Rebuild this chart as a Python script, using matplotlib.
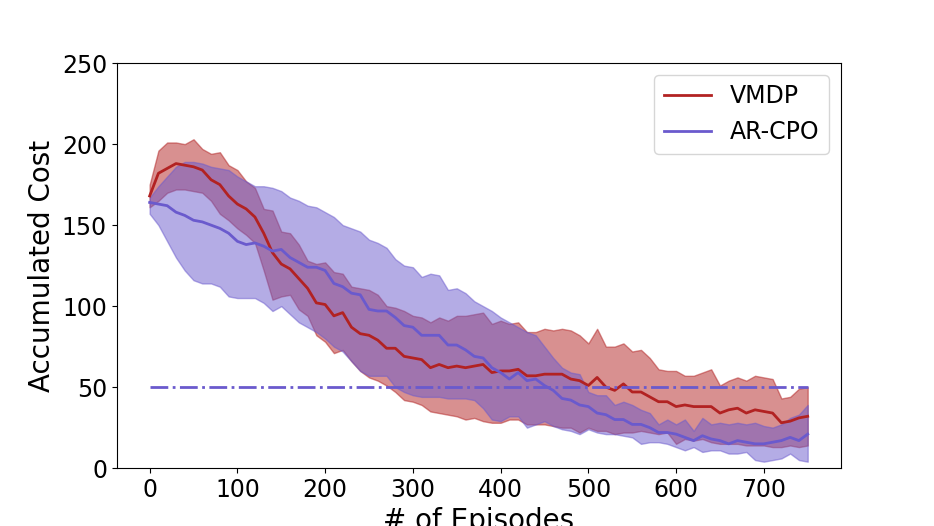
import matplotlib
matplotlib.use('Agg')
import matplotlib.pyplot as plt

# episodes sampled every 10
episodes = list(range(0, 760, 10))

# VMDP: mean and band
vmdp_mean = [168, 182, 185, 188, 187, 186, 184, 178, 175, 168,
             163, 160, 155, 145, 133, 126, 123, 117, 111, 102,
             101, 94, 96, 87, 83, 82, 79, 74, 74, 69,
             68, 67, 62, 64, 62, 63, 62, 63, 64, 59,
             60, 60, 61, 57, 57, 58, 58, 58, 55, 54,
             51, 56, 50, 48, 52, 47, 47, 44, 41, 41,
             38, 39, 38, 38, 38, 34, 36, 37, 34, 36,
             35, 34, 28, 29, 31, 32]
vmdp_upper = [175, 196, 201, 201, 200, 203, 197, 194, 195, 187,
              184, 177, 173, 160, 159, 146, 145, 138, 128, 126,
              127, 121, 120, 112, 111, 110, 107, 100, 99, 97,
              94, 93, 90, 93, 91, 94, 94, 95, 96, 89,
              91, 89, 90, 84, 84, 86, 85, 86, 85, 82,
              77, 86, 75, 75, 77, 72, 73, 68, 61, 60,
              60, 57, 57, 59, 61, 51, 54, 56, 54, 57,
              56, 55, 43, 44, 49, 50]
vmdp_lower = [161, 165, 170, 172, 172, 171, 170, 165, 157, 153,
              148, 144, 139, 122, 104, 106, 107, 98, 94, 82,
              78, 71, 73, 66, 60, 56, 54, 51, 47, 42,
              41, 39, 35, 34, 33, 32, 30, 31, 29, 28,
              28, 30, 30, 27, 27, 27, 26, 25, 25, 22,
              25, 23, 23, 21, 22, 22, 23, 22, 21, 22,
              15, 18, 17, 18, 16, 15, 15, 15, 14, 14,
              14, 13, 13, 14, 13, 14]

# AR-CPO: mean and band
arcpo_mean = [164, 163, 162, 158, 156, 153, 152, 150, 148, 145,
              140, 138, 139, 137, 134, 135, 130, 127, 124, 124,
              122, 114, 112, 108, 107, 98, 97, 97, 93, 88,
              87, 82, 82, 82, 76, 76, 73, 69, 68, 62,
              59, 55, 59, 54, 55, 51, 48, 43, 42, 39,
              38, 34, 33, 30, 30, 27, 27, 25, 22, 22,
              21, 19, 17, 20, 18, 17, 15, 17, 16, 15,
              15, 16, 17, 19, 17, 21]
arcpo_upper = [167, 174, 180, 186, 189, 189, 188, 186, 185, 184,
               180, 177, 174, 174, 173, 171, 167, 165, 162, 161,
               158, 155, 150, 148, 146, 141, 139, 136, 129, 125,
               124, 118, 120, 119, 110, 111, 108, 103, 100, 97,
               93, 90, 87, 84, 82, 75, 68, 62, 59, 58,
               47, 45, 45, 39, 41, 39, 36, 34, 27, 30,
               27, 30, 23, 31, 27, 28, 27, 28, 27, 28,
               26, 25, 27, 31, 33, 39]
arcpo_lower = [157, 150, 140, 130, 122, 116, 114, 114, 112, 106,
               105, 105, 105, 102, 97, 100, 95, 90, 87, 84,
               80, 75, 72, 66, 60, 57, 57, 57, 50, 47,
               45, 44, 44, 44, 43, 43, 43, 42, 37, 30,
               29, 32, 32, 25, 27, 29, 26, 24, 23, 21,
               24, 22, 21, 21, 20, 19, 15, 16, 16, 15,
               13, 11, 13, 10, 11, 11, 9, 9, 10, 5,
               4, 5, 6, 9, 5, 4]

cost_limit = 50

red = '#b22222'
blue = '#6a5acd'

fig, ax = plt.subplots(figsize=(9.34, 5.26), dpi=100)

ax.fill_between(episodes, vmdp_lower, vmdp_upper, color=red, alpha=0.5, linewidth=1)
ax.fill_between(episodes, arcpo_lower, arcpo_upper, color=blue, alpha=0.5, linewidth=1)
ax.plot(episodes, vmdp_mean, color=red, linewidth=2, label='VMDP')
ax.plot(episodes, arcpo_mean, color=blue, linewidth=2, label='AR-CPO')
ax.plot([episodes[0], episodes[-1]], [cost_limit, cost_limit], color=blue,
        linestyle='-.', linewidth=2)

ax.set_ylim(0, 250)
ax.set_xticks([0, 100, 200, 300, 400, 500, 600, 700])
ax.set_yticks([0, 50, 100, 150, 200, 250])
ax.tick_params(labelsize=17)
ax.set_xlabel('# of Episodes', fontsize=20)
ax.set_ylabel('Accumulated Cost', fontsize=20)
ax.legend(loc='upper right', fontsize=17)

plt.savefig('out.png', dpi=100)
